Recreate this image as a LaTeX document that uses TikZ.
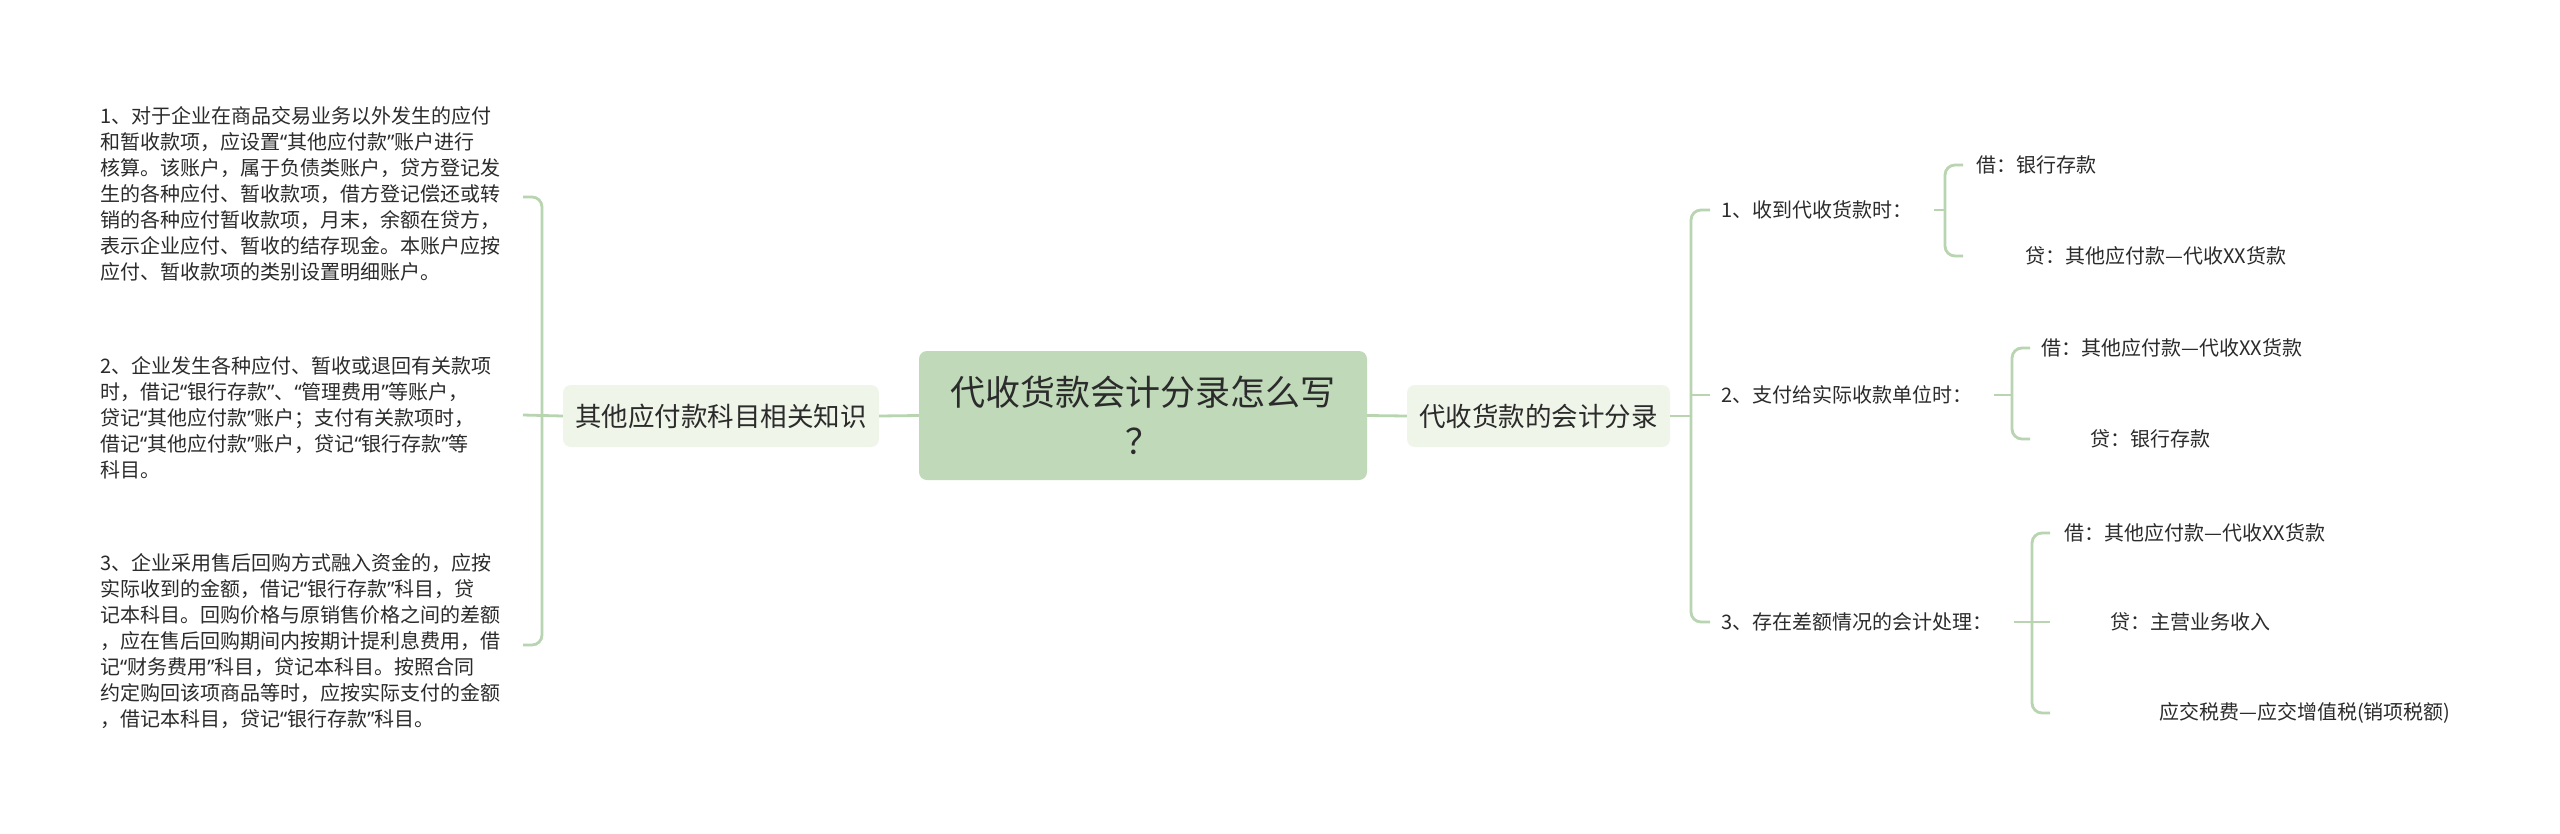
\documentclass[tikz,border=0pt]{standalone}
\usepackage{fontspec}
\newfontfamily\cjk{Noto Sans CJK SC}
\newfontfamily\qfont{Noto Sans}
\newcommand\qtl{{\qfont “}}
\newcommand\qtr{{\qfont ”}}
\definecolor{linec}{HTML}{B8D4B0}
\definecolor{mainfill}{HTML}{BFD9B9}
\definecolor{subfill}{HTML}{EFF5E9}
\definecolor{txt}{HTML}{2B2B2B}
\begin{document}
\begin{tikzpicture}[x=1pt,y=-1pt,
  every node/.style={font=\cjk,text=txt},
  conn/.style={draw=linec,line width=2.8pt,rounded corners=10pt},
  mainbox/.style={fill=mainfill,rounded corners=8pt,minimum width=448pt,minimum height=129pt,align=center,inner sep=0pt,font=\cjk\fontsize{35}{49}\selectfont},
  subbox/.style={fill=subfill,rounded corners=8pt,minimum height=62pt,inner sep=0pt,font=\cjk\fontsize{26.5}{32}\selectfont},
  leaf/.style={anchor=west,inner sep=0pt,font=\cjk\fontsize{20}{26}\selectfont},
  para/.style={anchor=west,inner sep=0pt,align=left,font=\cjk\fontsize{20}{26}\selectfont}]
\fill[white] (0,0) rectangle (2560,833);
\useasboundingbox (0,0) rectangle (2560,833);

% main and sub topics
\node[mainbox] (C) at (1143,415.5) {代收货款会计分录怎么写\\？};
\node[subbox,minimum width=316pt] (L) at (721,416) {其他应付款科目相关知识};
\node[subbox,minimum width=263pt] (R) at (1538.5,416) {代收货款的会计分录};

% left paragraphs
\node[para] (t1) at (100,193.5) {1、对于企业在商品交易业务以外发生的应付\\和暂收款项，应设置\qtl 其他应付款\qtr 账户进行\\核算。该账户，属于负债类账户，贷方登记发\\生的各种应付、暂收款项，借方登记偿还或转\\销的各种应付暂收款项，月末，余额在贷方，\\表示企业应付、暂收的结存现金。本账户应按\\应付、暂收款项的类别设置明细账户。};
\node[para] (t2) at (100,417.5) {2、企业发生各种应付、暂收或退回有关款项\\时，借记\qtl 银行存款\qtr 、\qtl 管理费用\qtr 等账户，\\贷记\qtl 其他应付款\qtr 账户；支付有关款项时，\\借记\qtl 其他应付款\qtr 账户，贷记\qtl 银行存款\qtr 等\\科目。};
\node[para] (t3) at (100,641) {3、企业采用售后回购方式融入资金的，应按\\实际收到的金额，借记\qtl 银行存款\qtr 科目，贷\\记本科目。回购价格与原销售价格之间的差额\\，应在售后回购期间内按期计提利息费用，借\\记\qtl 财务费用\qtr 科目，贷记本科目。按照合同\\约定购回该项商品等时，应按实际支付的金额\\，借记本科目，贷记\qtl 银行存款\qtr 科目。};

% right items
\node[leaf] (r1) at (1721,210) {1、收到代收货款时：};
\node[leaf] (r2) at (1721,395) {2、支付给实际收款单位时：};
\node[leaf] (r3) at (1721,622) {3、存在差额情况的会计处理：};
\node[leaf] (a1) at (1976,165) {借：银行存款};
\node[leaf] (a2) at (2025,256) {贷：其他应付款—代收XX货款};
\node[leaf] (b1) at (2041,348) {借：其他应付款—代收XX货款};
\node[leaf] (b2) at (2090,439) {贷：银行存款};
\node[leaf] (c1) at (2064,533) {借：其他应付款—代收XX货款};
\node[leaf] (c2) at (2110,622) {贷：主营业务收入};
\node[leaf] (c3) at (2159,713) {应交税费—应交增值税(销项税额)};

% stub end coordinates
\coordinate (lt) at (523,197);
\coordinate (lm) at (523,415);
\coordinate (lb) at (523,645);
\coordinate (rt) at (1710,210);
\coordinate (rm) at (1710,395);
\coordinate (rb) at (1710,622);
\coordinate (a1e) at (1963,165);
\coordinate (a2e) at (1963,256);
\coordinate (b1e) at (2030,348);
\coordinate (b2e) at (2030,439);
\coordinate (c1e) at (2050,533);
\coordinate (c2e) at (2050,622);
\coordinate (c3e) at (2050,713);

% connectors
\draw[conn] (C.west) -- (L.east);
\draw[conn] (C.east) -- (R.west);

\draw[conn] (lt) -- (542,197) -- (542,645) -- (lb);
\draw[conn] (L.west) -- (lm);

\draw[conn] (rt) -- (1691,210) -- (1691,622) -- (rb);
\draw[conn] (R.east) -- (1691,416);
\draw[conn] (1691,395) -- (rm);

\draw[conn] (a1e) -- (1945,165) -- (1945,256) -- (a2e);
\draw[conn] ([xshift=21pt]r1.east) -- (1945,210);

\draw[conn] (b1e) -- (2012,348) -- (2012,439) -- (b2e);
\draw[conn] ([xshift=21pt]r2.east) -- (2012,395);

\draw[conn] (c1e) -- (2032,533) -- (2032,713) -- (c3e);
\draw[conn] ([xshift=21pt]r3.east) -- (c2e);
\end{tikzpicture}
\end{document}
